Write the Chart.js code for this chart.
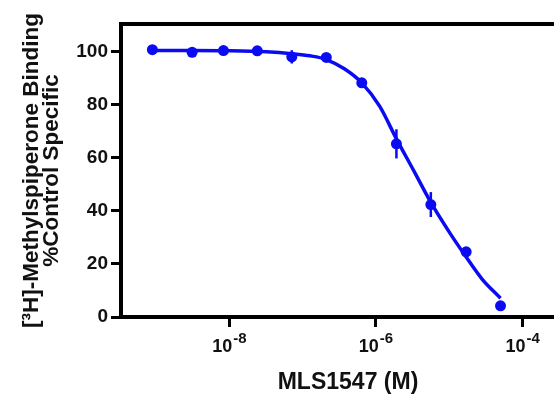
<!DOCTYPE html>
<html>
<head>
<meta charset="utf-8">
<script src="https://cdn.jsdelivr.net/npm/chart.js@4.4.1/dist/chart.umd.min.js"></script>
<style>
  html, body { margin: 0; padding: 0; background: #fff; overflow: hidden; }
  canvas { display: block; }
</style>
</head>
<body>
<canvas id="doseChart" width="590" height="402"></canvas>
<script>
// measured points (mean +/- SEM)
const concentrations = [8.9e-10, 3.1e-9, 8.3e-9, 2.4e-8, 7.1e-8, 2.1e-7, 6.4e-7, 1.9e-6, 5.6e-6, 1.7e-5, 5.0e-5];
const binding = [100.8, 99.8, 100.5, 100.4, 98.1, 97.9, 88.3, 65.3, 42.4, 24.6, 4.2];
const sem = [0, 0, 0, 0, 2.5, 0, 0, 5.5, 4.7, 1.5, 0];

// fitted curve
const curveConc = [8.9e-10, 3.1e-9, 1e-8, 3.2e-8, 7.1e-8, 1.26e-7, 2.1e-7, 3.7e-7, 6.4e-7, 1.12e-6, 1.9e-6, 3.3e-6, 5.6e-6, 1e-5, 1.69e-5, 2.8e-5, 5.0e-5];
const curveValue = [100.5, 100.5, 100.4, 100.0, 99.3, 98.5, 97.1, 93.6, 88.3, 79.5, 67.2, 55.0, 43.2, 32.0, 22.7, 14.3, 7.1];

// axis ticks
const xTickValues = [1e-8, 1e-6, 1e-4];
const yTickValues = [0, 20, 40, 60, 80, 100];

const blue = '#0b0bf2';
const fontFamily = '"Liberation Sans", Arial, Helvetica, sans-serif';

const extras = {
    id: 'extras',
    afterDatasetsDraw(chart) {
        const ctx = chart.ctx;
        const y = chart.scales.y;
        const meta = chart.getDatasetMeta(1);
        ctx.save();
        ctx.strokeStyle = blue;
        ctx.lineWidth = 2.5;
        meta.data.forEach((pt, i) => {
            if (!sem[i]) return;
            ctx.beginPath();
            ctx.moveTo(pt.x, y.getPixelForValue(binding[i] + sem[i]));
            ctx.lineTo(pt.x, y.getPixelForValue(binding[i] - sem[i]));
            ctx.stroke();
        });
        ctx.restore();
    },
    afterDraw(chart) {
        const ctx = chart.ctx;
        const area = chart.chartArea;
        const x = chart.scales.x;
        ctx.save();
        // top frame line
        ctx.strokeStyle = '#000';
        ctx.lineWidth = 4;
        ctx.beginPath();
        ctx.moveTo(area.left - 2, area.top);
        ctx.lineTo(area.right, area.top);
        ctx.stroke();

        // x tick labels as 10 with raised exponent
        ctx.fillStyle = '#111';
        ctx.textBaseline = 'alphabetic';
        ctx.textAlign = 'left';
        x.ticks.forEach(t => {
            const px = x.getPixelForValue(t.value);
            const exp = String(Math.round(Math.log10(t.value)));
            ctx.font = 'bold 18px ' + fontFamily;
            const wBase = ctx.measureText('10').width;
            ctx.font = 'bold 15px ' + fontFamily;
            const wExp = ctx.measureText(exp).width;
            const start = px - (wBase + wExp + 1) / 2;
            ctx.font = 'bold 18px ' + fontFamily;
            ctx.fillText('10', start, 352);
            ctx.font = 'bold 15px ' + fontFamily;
            ctx.fillText(exp, start + wBase + 1, 343);
        });
        ctx.restore();
    }
};

new Chart(document.getElementById('doseChart'), {
    data: {
        datasets: [{
            type: 'line',
            data: curveConc.map((c, i) => ({ x: c, y: curveValue[i] })),
            borderColor: blue,
            borderWidth: 3.5,
            pointRadius: 0,
            cubicInterpolationMode: 'monotone',
            fill: false
        }, {
            type: 'scatter',
            data: concentrations.map((c, i) => ({ x: c, y: binding[i] })),
            backgroundColor: blue,
            borderColor: blue,
            pointRadius: 5.5,
            pointBorderWidth: 0
        }]
    },
    options: {
        responsive: false,
        animation: false,
        layout: { padding: { top: 24, right: 15, left: 0, bottom: 0 } },
        plugins: {
            legend: { display: false },
            tooltip: { enabled: false }
        },
        scales: {
            x: {
                type: 'logarithmic',
                min: 3.32e-10,
                max: 5.19e-4,
                afterBuildTicks: s => { s.ticks = xTickValues.map(v => ({ value: v })); },
                afterFit: s => { s.height = 85; },
                border: { display: true, color: '#000', width: 4 },
                grid: { drawOnChartArea: false, drawTicks: true, tickLength: 10, tickWidth: 3, tickColor: '#000' },
                ticks: { display: false },
                title: {
                    display: true,
                    text: 'MLS1547 (M)',
                    color: '#111',
                    font: { family: fontFamily, size: 23, weight: 'bold' },
                    padding: { top: 0, bottom: 6 }
                }
            },
            y: {
                min: 0,
                max: 110.5,
                afterBuildTicks: s => { s.ticks = yTickValues.map(v => ({ value: v })); },
                afterFit: s => { s.width = 121; },
                border: { display: true, color: '#000', width: 4 },
                grid: { drawOnChartArea: false, drawTicks: true, tickLength: 10, tickWidth: 3, tickColor: '#000' },
                ticks: {
                    color: '#111',
                    padding: 3,
                    font: { family: fontFamily, size: 19, weight: 'bold' }
                },
                title: {
                    display: true,
                    text: ['[\u00B3H]-Methylspiperone Binding', '%Control Specific'],
                    color: '#111',
                    font: { family: fontFamily, size: 22.5, weight: 'bold', lineHeight: 0.92 },
                    padding: { top: 21, bottom: 0 }
                }
            }
        }
    },
    plugins: [extras]
});
</script>
</body>
</html>
